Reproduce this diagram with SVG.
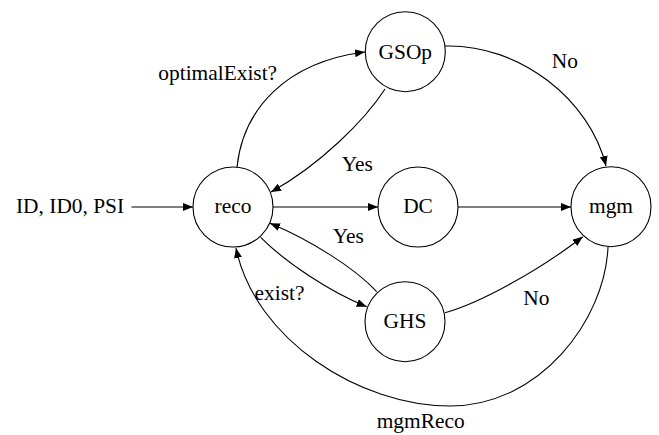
<svg xmlns="http://www.w3.org/2000/svg" width="659" height="435" viewBox="0 0 659 435">
<style>
text{font-family:'Liberation Serif','Times New Roman','DejaVu Serif',serif;font-size:21.4px;fill:#000}
.n circle{fill:#fff;stroke:#000;stroke-width:1.1}
.n text{text-anchor:middle}
#edges path{fill:none;stroke:#000;stroke-width:1.1;marker-end:url(#ah)}
</style>
<defs>
<marker id="ah" viewBox="0 0 10 8" refX="10" refY="4" markerWidth="10" markerHeight="8" markerUnits="userSpaceOnUse" orient="auto">
<path d="M0,0 L10,4 L0,8 Z" fill="#000"/>
</marker>
</defs>
<rect width="659" height="435" fill="#fff"/>
<g id="edges">
<path d="M131.5,207 L193,207"/>
<path d="M237,167 C243,110 285,62 365,52"/>
<path d="M385,89 C365,120 320,165 271,192"/>
<path d="M273,207 L378,207"/>
<path d="M458,207 L571,207"/>
<path d="M445,46 C520,44 590,100 606,166"/>
<path d="M260.7,237.3 C285,262 330,292 366.7,306.7"/>
<path d="M376.7,291.7 C355,268 310,240 270,223.3"/>
<path d="M445,312.7 C480,303 540,270 582.7,236.7"/>
<path d="M608,247 C605,320 540,406 450,406 C360,406 255,340 236,248"/>
</g>
<g id="labels">
<text x="16" y="212.7" font-family="Liberation Serif, DejaVu Serif, serif">ID, ID0, PSI</text>
<text x="158.3" y="80">optimalExist?</text>
<text x="341.7" y="170.7">Yes</text>
<text x="551.7" y="68">No</text>
<text x="332.7" y="243.3">Yes</text>
<text x="254.5" y="300">exist?</text>
<text x="523.3" y="305">No</text>
<text x="376.7" y="428">mgmReco</text>
</g>
<g id="reco" class="n"><circle cx="233" cy="207" r="40"/><text x="233" y="213.3">reco</text></g>
<g id="GSOp" class="n"><circle cx="405.3" cy="51.7" r="40"/><text x="405.3" y="59.3">GSOp</text></g>
<g id="DC" class="n"><circle cx="418" cy="207" r="40"/><text x="418" y="213.3">DC</text></g>
<g id="mgm" class="n"><circle cx="611" cy="206.7" r="40"/><text x="611" y="213.3">mgm</text></g>
<g id="GHS" class="n"><circle cx="405" cy="321.7" r="40"/><text x="405" y="328.3">GHS</text></g>
</svg>
